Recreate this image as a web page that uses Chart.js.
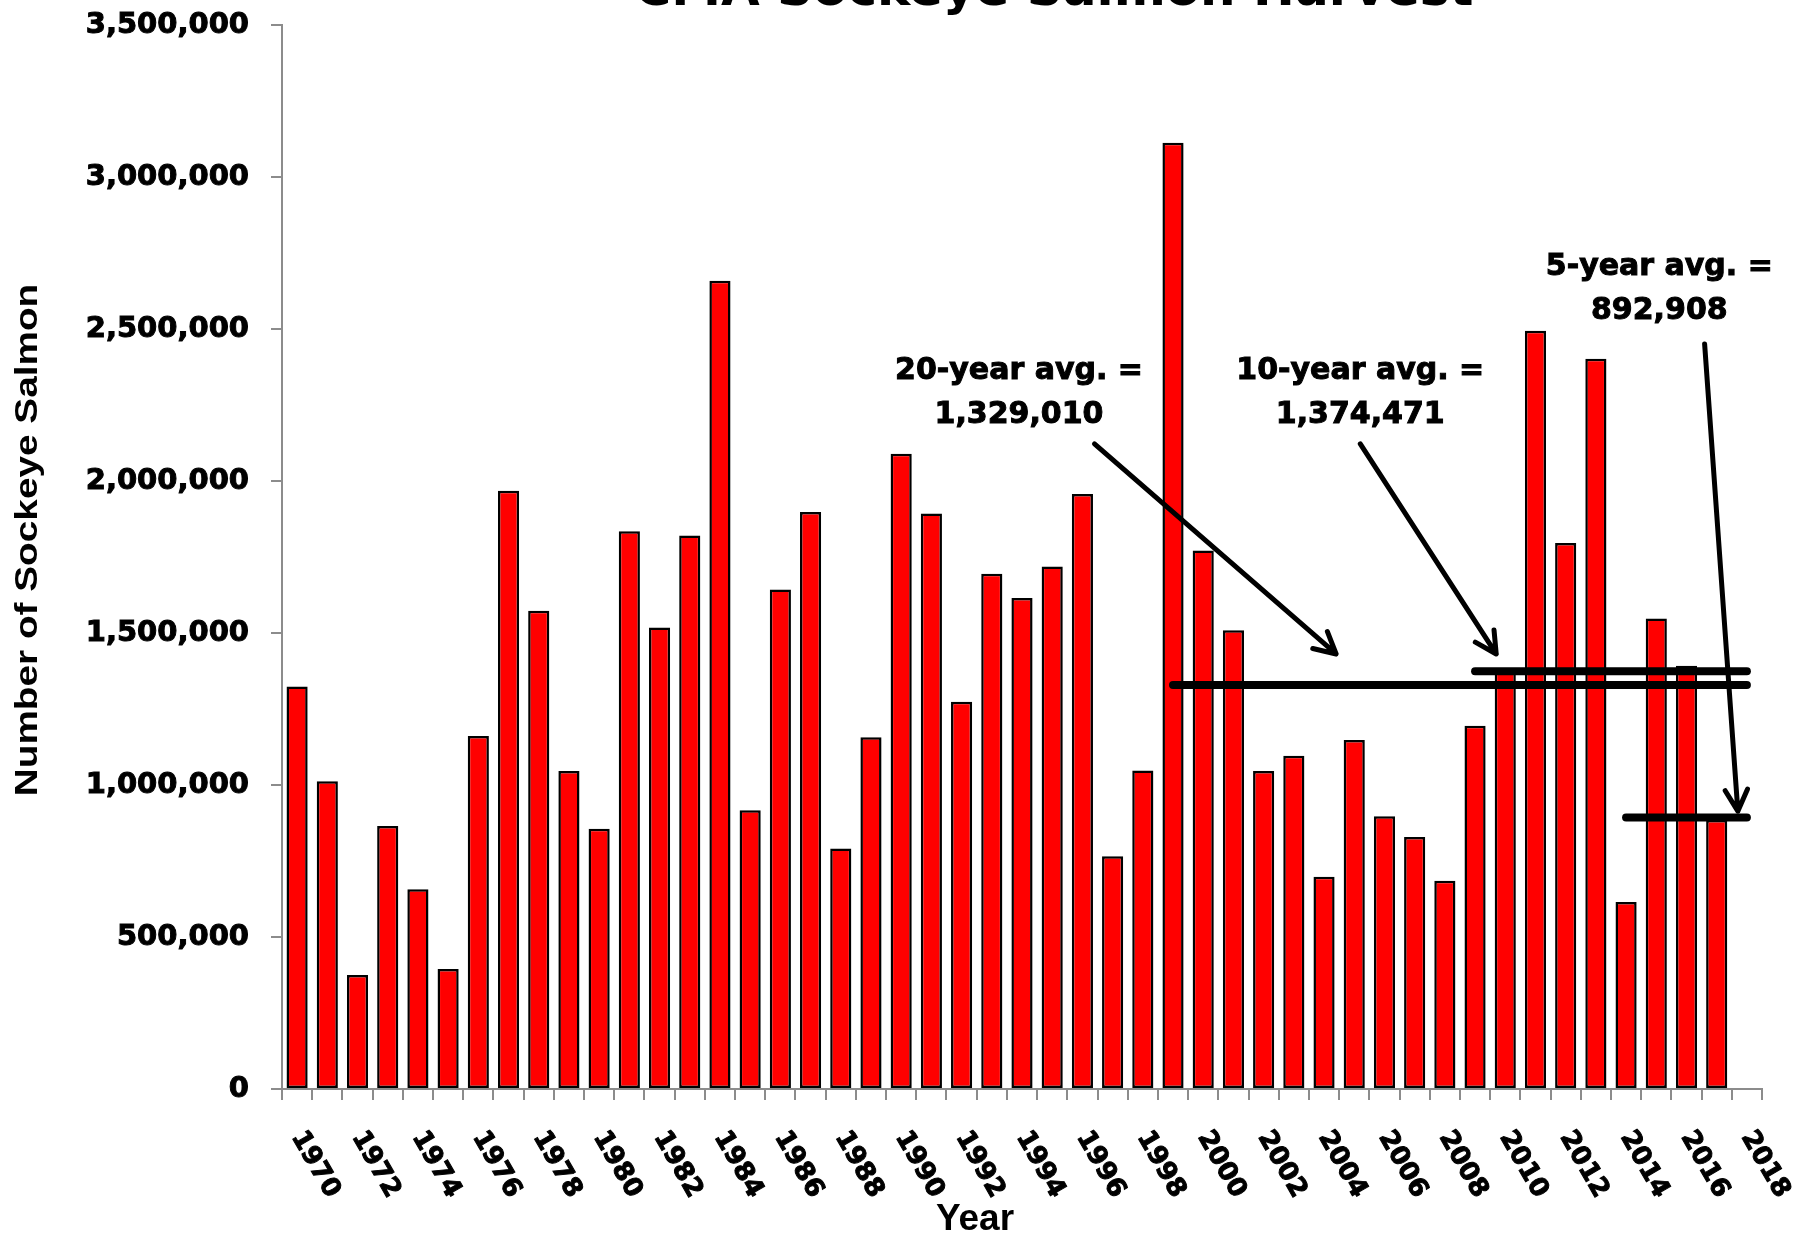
<!DOCTYPE html>
<html>
<head>
<meta charset="utf-8">
<script src="https://cdn.jsdelivr.net/npm/chart.js@4.4.1/dist/chart.umd.min.js"></script>
<style>
  html, body { margin: 0; padding: 0; background: #fff; }
  #wrap { width: 1816px; height: 1235px; }
</style>
</head>
<body>
<div id="wrap"><canvas id="harvestChart"></canvas></div>
<script>
// годы (2018 — пустая категория в конце оси)
const years = [
  '1970','1971','1972','1973','1974','1975','1976','1977','1978','1979',
  '1980','1981','1982','1983','1984','1985','1986','1987','1988','1989',
  '1990','1991','1992','1993','1994','1995','1996','1997','1998','1999',
  '2000','2001','2002','2003','2004','2005','2006','2007','2008','2009',
  '2010','2011','2012','2013','2014','2015','2016','2017','2018'
];

// вылов нерки по годам
const harvest = [
  1324000, 1012000,  375000,  865000,  657000,  395000, 1161000, 1968000, 1573000, 1046000,
   856000, 1835000, 1518000, 1821000, 2659000,  917000, 1643000, 1898000,  791000, 1157000,
  2090000, 1893000, 1274000, 1695000, 1615000, 1719000, 1957000,  766000, 1048000, 3113000,
  1771000, 1509000, 1046000, 1096000,  698000, 1148000,  897000,  829000,  685000, 1195000,
  1380000, 2494000, 1796000, 2402000,  615000, 1548000, 1392000,  885000, null
];

// средние значения
const avgNames  = ['20-year avg. =', '10-year avg. =', '5-year avg. ='];
const avgValues = [1329010, 1374471, 892908];
const avgFrom   = ['1999', '2009', '2014'];
const avgTo     = ['2018', '2018', '2018'];

const yTickStep = 500000;
const yMax      = 3500000;

// подписи и стрелки в координатах данных (индекс категории, значение)
const notes = [
  { tx: 23.9, ty: 2362000, ax1: 26.4, ay1: 2122000, ax2: 34.4, ay2: 1431000 },
  { tx: 35.2, ty: 2362000, ax1: 35.2, ay1: 2122000, ax2: 39.7, ay2: 1431000 },
  { tx: 45.1, ty: 2704000, ax1: 46.6, ay1: 2451000, ax2: 47.7, ay2:  914000 }
];

const fmt = v => v.toLocaleString('en-US');
const AXIS_GRAY = '#8c8c8c';

function drawArrow(ctx, x1, y1, x2, y2) {
  const a = Math.atan2(y2 - y1, x2 - x1);
  const head = 24, spread = Math.PI / 6.5;
  ctx.beginPath();
  ctx.moveTo(x1, y1);
  ctx.lineTo(x2, y2);
  ctx.moveTo(x2 - head * Math.cos(a - spread), y2 - head * Math.sin(a - spread));
  ctx.lineTo(x2, y2);
  ctx.lineTo(x2 - head * Math.cos(a + spread), y2 - head * Math.sin(a + spread));
  ctx.stroke();
}

// жирный текст: заливка + тонкая обводка
function boldText(ctx, text, px, py) {
  ctx.fillText(text, px, py);
  ctx.strokeText(text, px, py);
}

const overlay = {
  id: 'overlay',
  afterDraw(chart) {
    const { ctx, chartArea } = chart;
    const x = chart.scales.x, y = chart.scales.y;
    ctx.save();
    ctx.fillStyle = '#000';
    ctx.strokeStyle = '#000';

    // заголовок (обрезан сверху, как в исходнике)
    ctx.font = 'bold 50px "DejaVu Sans"';
    ctx.textAlign = 'center';
    ctx.textBaseline = 'alphabetic';
    ctx.fillText('CMA Sockeye Salmon Harvest', 1054, 5);

    // подписи оси X, повёрнутые по часовой
    ctx.font = 'bold 26px "DejaVu Sans"';
    ctx.lineWidth = 1;
    ctx.textAlign = 'left';
    ctx.textBaseline = 'middle';
    years.forEach((yr, i) => {
      if (i % 2) return;
      ctx.save();
      ctx.translate(x.getPixelForValue(i), chartArea.bottom + 44);
      ctx.rotate(Math.PI / 3);
      boldText(ctx, yr, 0, 0);
      ctx.restore();
    });

    // название оси X
    ctx.font = 'bold 37px "Liberation Sans"';
    ctx.textAlign = 'center';
    ctx.fillText('Year', 975, 1220);

    // название оси Y
    ctx.save();
    ctx.translate(28, 540);
    ctx.rotate(-Math.PI / 2);
    ctx.scale(1.25, 1);
    ctx.font = 'bold 31px "Liberation Sans"';
    ctx.fillText('Number of Sockeye Salmon', 0, 0);
    ctx.restore();

    // подписи средних
    ctx.font = 'bold 30px "DejaVu Sans"';
    ctx.lineWidth = 1;
    notes.forEach((n, i) => {
      const px = x.getPixelForValue(n.tx), py = y.getPixelForValue(n.ty);
      boldText(ctx, avgNames[i], px, py);
      boldText(ctx, fmt(avgValues[i]), px, py + 44);
    });

    // стрелки
    ctx.lineWidth = 5;
    ctx.lineCap = 'round';
    ctx.lineJoin = 'round';
    notes.forEach(n => {
      drawArrow(ctx,
        x.getPixelForValue(n.ax1), y.getPixelForValue(n.ay1),
        x.getPixelForValue(n.ax2), y.getPixelForValue(n.ay2));
    });
    ctx.restore();
  }
};

const avgDatasets = avgValues.map((v, i) => ({
  type: 'line',
  label: avgNames[i],
  data: [{ x: avgFrom[i], y: v }, { x: avgTo[i], y: v }],
  borderColor: '#000',
  borderWidth: 8,
  borderCapStyle: 'round',
  pointRadius: 0,
  order: 1
}));

new Chart(document.getElementById('harvestChart'), {
  type: 'bar',
  data: {
    labels: years,
    datasets: [{
      label: 'Harvest',
      data: harvest,
      backgroundColor: '#ff0000',
      borderColor: '#000',
      borderWidth: 2.5,
      borderSkipped: false,
      barPercentage: 0.7,
      categoryPercentage: 1,
      order: 2
    }, ...avgDatasets]
  },
  options: {
    responsive: true,
    maintainAspectRatio: false,
    animation: false,
    layout: { padding: { top: 25, right: 54, left: 0, bottom: 0 } },
    plugins: {
      legend: { display: false },
      tooltip: { enabled: false },
      title: { display: false }
    },
    scales: {
      x: {
        grid: { drawOnChartArea: false, color: AXIS_GRAY, lineWidth: 2, tickLength: 11, offset: true },
        border: { color: AXIS_GRAY, width: 2 },
        ticks: { display: false },
        afterFit: s => { s.height = 146; s.paddingLeft = 0; s.paddingRight = 0; }
      },
      y: {
        min: 0,
        max: yMax,
        grid: { drawOnChartArea: false, color: AXIS_GRAY, lineWidth: 2, tickLength: 11 },
        border: { color: AXIS_GRAY, width: 2 },
        ticks: {
          stepSize: yTickStep,
          padding: 22,
          color: '#000',
          textStrokeColor: '#000',
          textStrokeWidth: 1,
          font: { family: 'DejaVu Sans', weight: 'bold', size: 29 },
          callback: v => fmt(v)
        },
        afterFit: s => { s.width = 282; s.paddingTop = 0; s.paddingBottom = 0; }
      }
    }
  },
  plugins: [overlay]
});
</script>
</body>
</html>
